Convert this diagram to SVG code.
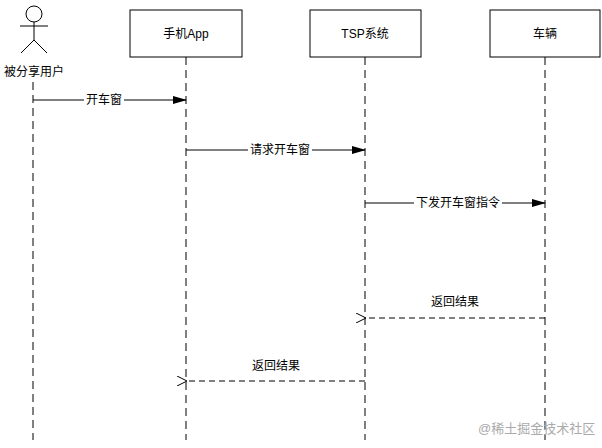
<svg xmlns="http://www.w3.org/2000/svg" width="602" height="448" viewBox="0 0 602 448">
<style>
text{font-family:"Liberation Sans","Noto Sans CJK SC",sans-serif;font-size:12px;fill:#000}
.box{fill:#fff;stroke:#000;stroke-width:1}
.life{stroke:#000;stroke-dasharray:8,5;fill:none}
.msg{stroke:#000;fill:none}
.ret{stroke:#000;stroke-dasharray:6,4;fill:none}
.bg{fill:#fff}
</style>
<defs>
<marker id="fa" markerWidth="14" markerHeight="8" refX="13" refY="4" orient="auto" markerUnits="userSpaceOnUse"><path d="M0,0L14,4L0,8z" fill="#000"/></marker>
<marker id="oa" markerWidth="12" markerHeight="10" refX="1" refY="5" orient="auto" markerUnits="userSpaceOnUse"><path d="M11,0L1,5L11,10" fill="none" stroke="#000"/></marker>
</defs>
<rect width="602" height="448" fill="#fff"/>
<g id="user">
<circle cx="34" cy="14" r="8" fill="#fff" stroke="#000"/>
<path d="M34,22V40M20,26H48M34,40L21,53M34,40L47,53" stroke="#000" fill="none"/>
<text x="34" y="76" text-anchor="middle">被分享用户</text>
</g>
<g id="app"><rect class="box" x="130" y="10" width="112" height="47"/><text x="186" y="38" text-anchor="middle">手机App</text></g>
<g id="tsp"><rect class="box" x="310" y="10" width="111" height="47"/><text x="365" y="38" text-anchor="middle">TSP系统</text></g>
<g id="car"><rect class="box" x="490" y="10" width="110" height="47"/><text x="545" y="38" text-anchor="middle">车辆</text></g>
<g id="connectors">
<path class="life" d="M33,82V440M186,57V440M365,57V440M545,57V440"/>
<path class="msg" d="M33,100H186" marker-end="url(#fa)"/>
<rect class="bg" x="84" y="92" width="40" height="15"/><text x="104" y="104" text-anchor="middle">开车窗</text>
<path class="msg" d="M186,150H365" marker-end="url(#fa)"/>
<rect class="bg" x="248" y="142" width="64" height="15"/><text x="280" y="154" text-anchor="middle">请求开车窗</text>
<path class="msg" d="M365,203H545" marker-end="url(#fa)"/>
<rect class="bg" x="414" y="195" width="88" height="15"/><text x="458" y="207" text-anchor="middle">下发开车窗指令</text>
<path class="ret" d="M545,318H366" marker-end="url(#oa)"/>
<text x="455" y="306" text-anchor="middle">返回结果</text>
<path class="ret" d="M365,381H187" marker-end="url(#oa)"/>
<text x="276" y="370" text-anchor="middle">返回结果</text>
</g>
<text x="478" y="433" style="fill:#aaa;font-size:13px">@稀土掘金技术社区</text>
</svg>
